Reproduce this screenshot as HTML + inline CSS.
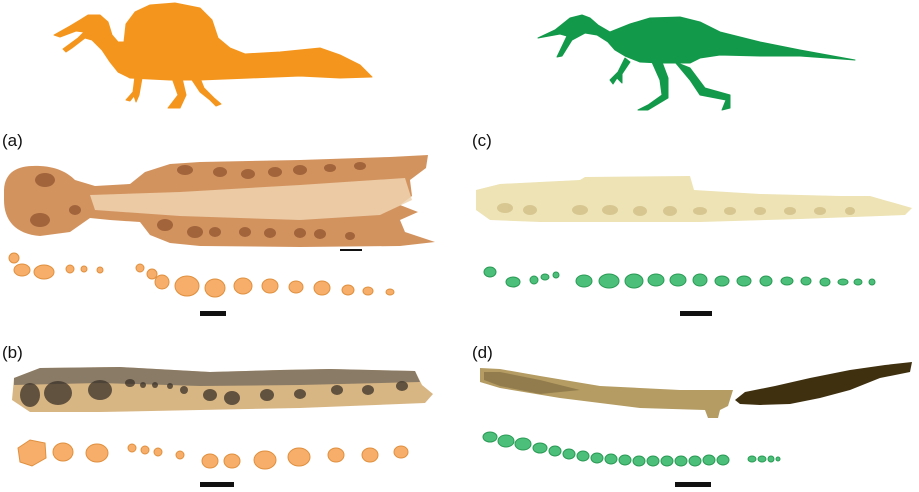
<!DOCTYPE html>
<html><head><style>
html,body{margin:0;padding:0;background:#fff;}
svg{display:block;}
text{font-family:"Liberation Sans",sans-serif;font-size:17px;fill:#111;}
</style></head><body>
<svg width="919" height="492" viewBox="0 0 919 492" xmlns="http://www.w3.org/2000/svg">
<!-- orange spinosaurus -->
<g fill="#f4961e" stroke="#f4961e" stroke-linejoin="round">
<path d="M54,35 L70,26 L80,20 L88,15 L100,15 L108,22 L112,35 L118,42 L124,42 L126,24 L135,12 L150,5 L175,3 L200,8 L212,20 L218,38 L230,48 L245,54 L280,52 L320,48 L340,55 L360,65 L372,77 L340,78 L300,76 L250,78 L200,80 L170,80 L130,78 L118,72 L110,62 L102,50 L92,40 L85,38 L72,48 L66,52 L63,49 L78,38 L84,32 L76,31 L60,37 Z"/>
<path d="M135,76 L133,92 L126,100 L130,101 L134,96 L136,102 L139,95 L142,78 Z"/>
<path d="M172,78 L178,95 L168,108 L180,108 L186,95 L182,78 Z"/>
<path d="M192,80 L200,92 L210,100 L216,106 L221,104 L214,98 L204,88 L200,78 Z"/>
</g>
<!-- green theropod -->
<g fill="#12994a" stroke="#12994a" stroke-linejoin="round">
<path d="M538,38 L555,30 L570,18 L582,15 L590,18 L598,25 L610,32 L630,24 L650,18 L680,17 L700,22 L720,32 L760,42 L800,50 L855,60 L800,56 L760,56 L720,55 L700,58 L690,63 L660,63 L640,62 L625,56 L615,50 L608,42 L597,35 L585,33 L572,40 L562,56 L557,57 L567,36 L560,34 Z"/>
<path d="M625,58 L618,72 L610,80 L613,84 L617,78 L622,83 L622,74 L630,62 Z"/>
<path d="M652,62 L660,80 L662,95 L648,105 L638,110 L648,110 L668,98 L668,78 L662,62 Z"/>
<path d="M675,62 L690,80 L700,95 L726,100 L722,110 L730,108 L730,95 L705,88 L690,68 Z"/>
</g>
<text x="2" y="146">(a)</text>
<text x="472" y="146">(c)</text>
<text x="2" y="358">(b)</text>
<text x="472" y="358">(d)</text>
<!-- photo a -->
<path d="M4,190 C5,170 20,165 40,166 C60,167 70,175 75,180 L95,186 L130,184 L145,172 L170,164 L200,162 L300,160 L390,157 L428,155 L426,168 L410,180 L412,196 L400,205 L418,212 L400,220 L405,232 L435,242 L400,246 L300,247 L200,246 L170,243 L150,235 L140,222 L110,220 L90,218 L70,232 L40,236 C15,234 4,220 4,200 Z" fill="#d3935f"/>
<path d="M90,195 L180,192 L300,185 L405,178 L412,200 L380,215 L300,220 L180,216 L95,210 Z" fill="#efd3b0" opacity="0.85"/>
<g fill="#7a3e1e" opacity="0.55">
<ellipse cx="45" cy="180" rx="10" ry="7"/><ellipse cx="40" cy="220" rx="10" ry="7"/><ellipse cx="75" cy="210" rx="6" ry="5"/>
<ellipse cx="165" cy="225" rx="8" ry="6"/><ellipse cx="195" cy="232" rx="8" ry="6"/><ellipse cx="215" cy="232" rx="6" ry="5"/><ellipse cx="245" cy="232" rx="6" ry="5"/><ellipse cx="270" cy="233" rx="6" ry="5"/><ellipse cx="300" cy="233" rx="6" ry="5"/><ellipse cx="320" cy="234" rx="6" ry="5"/><ellipse cx="350" cy="236" rx="5" ry="4"/>
<ellipse cx="185" cy="170" rx="8" ry="5"/><ellipse cx="220" cy="172" rx="7" ry="5"/><ellipse cx="248" cy="174" rx="7" ry="5"/><ellipse cx="275" cy="172" rx="7" ry="5"/><ellipse cx="300" cy="170" rx="7" ry="5"/><ellipse cx="330" cy="168" rx="6" ry="4"/><ellipse cx="360" cy="166" rx="6" ry="4"/>
</g>
<rect x="340" y="249" width="22" height="2" fill="#111"/>
<!-- orange ovals a -->
<g fill="#f6ae6a" stroke="#e0903e">
<ellipse cx="14" cy="258" rx="5" ry="5"/><ellipse cx="22" cy="270" rx="8" ry="6"/><ellipse cx="44" cy="272" rx="10" ry="7"/>
<ellipse cx="70" cy="269" rx="4" ry="4"/><ellipse cx="84" cy="269" rx="3" ry="3"/><ellipse cx="100" cy="270" rx="3" ry="3"/>
<ellipse cx="140" cy="268" rx="4" ry="4"/><ellipse cx="152" cy="274" rx="5" ry="5"/><ellipse cx="162" cy="282" rx="7" ry="7"/>
<ellipse cx="187" cy="286" rx="12" ry="10"/><ellipse cx="215" cy="288" rx="10" ry="9"/><ellipse cx="243" cy="286" rx="9" ry="8"/>
<ellipse cx="270" cy="286" rx="8" ry="7"/><ellipse cx="296" cy="287" rx="7" ry="6"/><ellipse cx="322" cy="288" rx="8" ry="7"/>
<ellipse cx="348" cy="290" rx="6" ry="5"/><ellipse cx="368" cy="291" rx="5" ry="4"/><ellipse cx="390" cy="292" rx="4" ry="3"/>
</g>
<rect x="200" y="311" width="26" height="5" fill="#111"/>
<!-- photo c -->
<path d="M476,190 L500,184 L540,182 L580,180 L585,177 L690,176 L694,190 L760,194 L840,196 L870,196 L912,208 L905,215 L800,219 L700,222 L600,222 L540,222 L490,220 L476,210 Z" fill="#ede3b5"/>
<g fill="#c9b479" opacity="0.6">
<ellipse cx="505" cy="208" rx="8" ry="5"/><ellipse cx="530" cy="210" rx="7" ry="5"/><ellipse cx="580" cy="210" rx="8" ry="5"/><ellipse cx="610" cy="210" rx="8" ry="5"/><ellipse cx="640" cy="211" rx="7" ry="5"/><ellipse cx="670" cy="211" rx="7" ry="5"/><ellipse cx="700" cy="211" rx="7" ry="4"/><ellipse cx="730" cy="211" rx="6" ry="4"/><ellipse cx="760" cy="211" rx="6" ry="4"/><ellipse cx="790" cy="211" rx="6" ry="4"/><ellipse cx="820" cy="211" rx="6" ry="4"/><ellipse cx="850" cy="211" rx="5" ry="4"/>
</g>
<!-- green ovals c -->
<g fill="#4cc07a" stroke="#2a9a55">
<ellipse cx="490" cy="272" rx="6" ry="5"/><ellipse cx="513" cy="282" rx="7" ry="5"/><ellipse cx="534" cy="280" rx="4" ry="4"/>
<ellipse cx="545" cy="277" rx="4" ry="3"/><ellipse cx="556" cy="275" rx="3" ry="3"/>
<ellipse cx="584" cy="281" rx="8" ry="6"/><ellipse cx="609" cy="281" rx="10" ry="7"/><ellipse cx="634" cy="281" rx="9" ry="7"/>
<ellipse cx="656" cy="280" rx="8" ry="6"/><ellipse cx="678" cy="280" rx="8" ry="6"/><ellipse cx="700" cy="280" rx="7" ry="6"/>
<ellipse cx="722" cy="281" rx="7" ry="5"/><ellipse cx="744" cy="281" rx="7" ry="5"/><ellipse cx="766" cy="281" rx="6" ry="5"/>
<ellipse cx="787" cy="281" rx="6" ry="4"/><ellipse cx="806" cy="281" rx="5" ry="4"/><ellipse cx="825" cy="282" rx="5" ry="4"/>
<ellipse cx="843" cy="282" rx="5" ry="3"/><ellipse cx="858" cy="282" rx="4" ry="3"/><ellipse cx="872" cy="282" rx="3" ry="3"/>
</g>
<rect x="680" y="311" width="32" height="5" fill="#111"/>
<!-- photo b -->
<path d="M14,378 L40,368 L120,367 L210,372 L280,370 L330,369 L415,371 L422,385 L433,394 L425,403 L300,408 L200,410 L100,412 L30,412 L12,400 Z" fill="#d8b684"/>
<path d="M14,378 L40,368 L120,367 L210,372 L280,370 L330,369 L415,371 L420,382 L300,385 L200,386 L100,383 L14,385 Z" fill="#7d7160" opacity="0.85"/>
<g fill="#3a3128" opacity="0.75">
<ellipse cx="30" cy="395" rx="10" ry="12"/><ellipse cx="58" cy="393" rx="14" ry="12"/><ellipse cx="100" cy="390" rx="12" ry="10"/><ellipse cx="130" cy="383" rx="5" ry="4"/>
<ellipse cx="143" cy="385" rx="3" ry="3"/><ellipse cx="155" cy="385" rx="3" ry="3"/><ellipse cx="170" cy="386" rx="3" ry="3"/><ellipse cx="184" cy="390" rx="4" ry="4"/><ellipse cx="210" cy="395" rx="7" ry="6"/>
<ellipse cx="232" cy="398" rx="8" ry="7"/><ellipse cx="267" cy="395" rx="7" ry="6"/><ellipse cx="300" cy="394" rx="6" ry="5"/><ellipse cx="337" cy="390" rx="6" ry="5"/><ellipse cx="368" cy="390" rx="6" ry="5"/><ellipse cx="402" cy="386" rx="6" ry="5"/>
</g>
<!-- orange ovals b -->
<g fill="#f6ae6a" stroke="#e0903e">
<path d="M18,448 L30,440 L45,443 L46,458 L32,466 L20,462 Z"/><ellipse cx="63" cy="452" rx="10" ry="9"/><ellipse cx="97" cy="453" rx="11" ry="9"/>
<ellipse cx="132" cy="448" rx="4" ry="4"/><ellipse cx="145" cy="450" rx="4" ry="4"/><ellipse cx="158" cy="452" rx="4" ry="4"/><ellipse cx="180" cy="455" rx="4" ry="4"/>
<ellipse cx="210" cy="461" rx="8" ry="7"/><ellipse cx="232" cy="461" rx="8" ry="7"/><ellipse cx="265" cy="460" rx="11" ry="9"/>
<ellipse cx="299" cy="457" rx="11" ry="9"/><ellipse cx="336" cy="455" rx="8" ry="7"/><ellipse cx="370" cy="455" rx="8" ry="7"/><ellipse cx="401" cy="452" rx="7" ry="6"/>
</g>
<rect x="200" y="482" width="34" height="5" fill="#111"/>
<!-- photo d -->
<path d="M480,368 L500,369 L540,376 L600,386 L680,390 L733,390 L728,406 L720,410 L718,418 L708,418 L705,410 L640,408 L560,398 L500,388 L480,382 Z" fill="#b49c62"/>
<path d="M484,372 L500,372 L540,380 L580,390 L540,394 L500,386 L484,380 Z" fill="#8a7448" opacity="0.8"/>
<path d="M735,400 L745,392 L775,386 L810,378 L850,370 L885,365 L912,362 L910,372 L880,378 L850,390 L820,398 L800,402 L790,404 L760,405 L740,404 Z" fill="#3f3010"/>
<!-- green ovals d -->
<g fill="#4cc07a" stroke="#2a9a55">
<ellipse cx="490" cy="437" rx="7" ry="5"/><ellipse cx="506" cy="441" rx="8" ry="6"/><ellipse cx="523" cy="444" rx="8" ry="6"/>
<ellipse cx="540" cy="448" rx="7" ry="5"/><ellipse cx="555" cy="451" rx="6" ry="5"/><ellipse cx="569" cy="454" rx="6" ry="5"/>
<ellipse cx="583" cy="456" rx="6" ry="5"/><ellipse cx="597" cy="458" rx="6" ry="5"/><ellipse cx="611" cy="459" rx="6" ry="5"/>
<ellipse cx="625" cy="460" rx="6" ry="5"/><ellipse cx="639" cy="461" rx="6" ry="5"/><ellipse cx="653" cy="461" rx="6" ry="5"/>
<ellipse cx="667" cy="461" rx="6" ry="5"/><ellipse cx="681" cy="461" rx="6" ry="5"/><ellipse cx="695" cy="461" rx="6" ry="5"/>
<ellipse cx="709" cy="460" rx="6" ry="5"/><ellipse cx="723" cy="460" rx="6" ry="5"/>
<ellipse cx="752" cy="459" rx="4" ry="3"/><ellipse cx="762" cy="459" rx="4" ry="3"/><ellipse cx="771" cy="459" rx="3" ry="3"/><ellipse cx="778" cy="459" rx="2" ry="2"/>
</g>
<rect x="675" y="482" width="36" height="5" fill="#111"/>
</svg>
</body></html>
